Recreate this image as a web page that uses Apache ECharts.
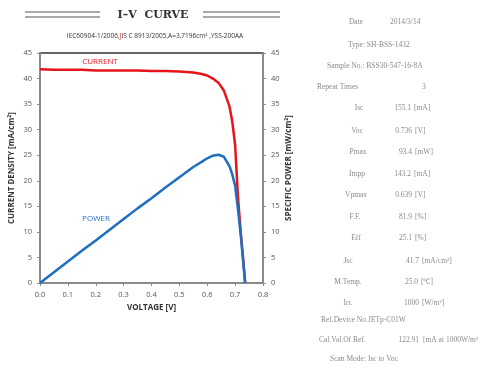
<!DOCTYPE html>
<html>
<head>
<meta charset="utf-8">
<title>I-V CURVE</title>
<script src="https://cdn.jsdelivr.net/npm/echarts@6/dist/echarts.min.js"></script>
<style>
  html, body { margin: 0; padding: 0; background: #fff; }
  #main { width: 494px; height: 374px; }
</style>
</head>
<body>
<div id="main"></div>
<script type="text/javascript">
    // voltage [V] / current density [mA/cm2] / specific power [mW/cm2]
    var voltage = [0.00, 0.05, 0.10, 0.15, 0.20, 0.25, 0.30, 0.35, 0.40, 0.45, 0.50, 0.55, 0.58, 0.60, 0.62, 0.64, 0.66, 0.68, 0.69, 0.70, 0.71, 0.72, 0.73, 0.736];
    var current = [41.8, 41.7, 41.7, 41.7, 41.6, 41.6, 41.6, 41.6, 41.5, 41.5, 41.4, 41.2, 40.9, 40.6, 40.0, 39.2, 37.6, 34.5, 31.5, 27.0, 17.0, 10.0, 4.0, 0];
    var power   = [0, 2.1, 4.2, 6.3, 8.3, 10.4, 12.5, 14.6, 16.6, 18.7, 20.7, 22.7, 23.7, 24.4, 24.9, 25.1, 24.7, 22.8, 21.2, 19.0, 14.5, 9.5, 3.5, 0];

    var xTicks = [0.0, 0.8, 0.1];   // min, max, step
    var yTicks = [0, 45, 5];

    // measurement summary on the right
    var infoLabels = ['Date', 'Isc', 'Voc', 'Pmax', 'Impp', 'Vpmax', 'F.F.', 'Eff', 'Jsc', 'M.Temp.', 'Irr.'];
    var infoValues = ['2014/3/14', '155.1', '0.736', '93.4', '143.2', '0.639', '81.9', '25.1', '41.7', '25.0', '1000'];
    var infoUnits  = ['', '[mA]', '[V]', '[mW]', '[mA]', '[V]', '[%]', '[%]', '[mA/cm\u00b2]', '[\u2103]', '[W/m\u00b2]'];

    var mychart = echarts.init(document.getElementById('main'));

    function pairs(xs, ys) {
        var out = [];
        for (var i = 0; i < xs.length; i++) {
            out.push([xs[i], ys[i]]);
        }
        return out;
    }

    var grey = '#8a8a8a';
    var infoFont = '7.5px "Liberation Serif"';
    var infoY = [22, 108, 131, 152, 174, 195, 217, 238, 261, 282, 303];
    var labelX = [356, 359, 357, 358, 357, 356, 355, 356, 348, 348, 348];
    var valueX = [390, 411, 412, 412, 411, 412, 412, 412, 419, 418, 419];

    var graphics = [
        // title with double rules
        { type: 'line', shape: { x1: 25, y1: 12, x2: 100, y2: 12 }, style: { stroke: '#555', lineWidth: 1.2 } },
        { type: 'line', shape: { x1: 25, y1: 17, x2: 100, y2: 17 }, style: { stroke: '#555', lineWidth: 1.2 } },
        { type: 'line', shape: { x1: 203, y1: 12, x2: 280, y2: 12 }, style: { stroke: '#555', lineWidth: 1.2 } },
        { type: 'line', shape: { x1: 203, y1: 17, x2: 280, y2: 17 }, style: { stroke: '#555', lineWidth: 1.2 } },
        { type: 'text', x: 153, y: 15, style: { text: 'I\u2013V  CURVE', font: 'bold 11px "DejaVu Serif"', fill: '#333', align: 'center', verticalAlign: 'middle' } },
        { type: 'text', x: 155, y: 36, style: {
            text: '{a|IEC60904-1/2006,}{r|J}{a|IS C 8913/2005,A=3.7196cm\u00b2 ,YSS-200AA}',
            align: 'center', verticalAlign: 'middle',
            rich: {
                a: { font: '6.5px "Open Sans"', fill: '#333' },
                r: { font: '6.5px "Open Sans"', fill: '#e8141b' }
            }
        } },
        { type: 'text', x: 100, y: 62, style: { text: 'CURRENT', font: '8px "Open Sans"', fill: '#e8141b', align: 'center', verticalAlign: 'middle' } },
        { type: 'text', x: 96, y: 219, style: { text: 'POWER', font: '8px "Open Sans"', fill: '#1f6fc0', align: 'center', verticalAlign: 'middle' } },

        // single-string rows of the info block
        { type: 'text', x: 348, y: 45, style: { text: 'Type: SH-BSS-1432', font: infoFont, fill: grey, verticalAlign: 'middle' } },
        { type: 'text', x: 327, y: 66, style: { text: 'Sample No.: BSS30-547-16-8A', font: infoFont, fill: grey, verticalAlign: 'middle' } },
        { type: 'text', x: 317, y: 87, style: { text: 'Repeat Times', font: infoFont, fill: grey, verticalAlign: 'middle' } },
        { type: 'text', x: 422, y: 87, style: { text: '3', font: infoFont, fill: grey, verticalAlign: 'middle' } },
        { type: 'text', x: 321, y: 320, style: { text: 'Ref.Device No.', font: infoFont, fill: grey, verticalAlign: 'middle' } },
        { type: 'text', x: 368, y: 320, style: { text: 'JETp-C01W', font: infoFont, fill: grey, verticalAlign: 'middle' } },
        { type: 'text', x: 319, y: 340, style: { text: 'Cal.Val.Of Ref.', font: infoFont, fill: grey, verticalAlign: 'middle' } },
        { type: 'text', x: 419, y: 340, style: { text: '122.91', font: infoFont, fill: grey, align: 'right', verticalAlign: 'middle' } },
        { type: 'text', x: 423, y: 340, style: { text: '[mA at 1000W/m\u00b2', font: infoFont, fill: grey, verticalAlign: 'middle' } },
        { type: 'text', x: 330, y: 359, style: { text: 'Scan Mode: Isc to Voc', font: infoFont, fill: grey, verticalAlign: 'middle' } }
    ];

    for (var i = 0; i < infoLabels.length; i++) {
        graphics.push({ type: 'text', x: labelX[i], y: infoY[i], style: { text: infoLabels[i], font: infoFont, fill: grey, align: 'center', verticalAlign: 'middle' } });
        if (i == 0) {
            graphics.push({ type: 'text', x: valueX[i], y: infoY[i], style: { text: infoValues[i], font: infoFont, fill: grey, verticalAlign: 'middle' } });
        } else {
            graphics.push({ type: 'text', x: valueX[i], y: infoY[i], style: { text: infoValues[i], font: infoFont, fill: grey, align: 'right', verticalAlign: 'middle' } });
            graphics.push({ type: 'text', x: valueX[i] + 3, y: infoY[i], style: { text: infoUnits[i], font: infoFont, fill: grey, verticalAlign: 'middle' } });
        }
    }

    var axisLabel = { fontFamily: 'Open Sans', fontSize: 7.5, color: '#555' };
    var yAxisBase = {
        type: 'value',
        min: yTicks[0], max: yTicks[1], interval: yTicks[2],
        nameLocation: 'middle',
        nameTextStyle: { fontFamily: 'Open Sans', fontSize: 8, fontWeight: 'bold', color: '#333' },
        axisLine: { show: true, lineStyle: { color: grey, width: 2 } },
        axisTick: { show: true, length: 3, lineStyle: { color: grey } },
        axisLabel: axisLabel,
        splitLine: { show: false }
    };

    var options = {
        animation: false,
        backgroundColor: '#fff',
        grid: { left: 40, right: 231, top: 53, bottom: 91, show: true, borderColor: '#333', borderWidth: 1.5 },
        xAxis: {
            type: 'value',
            min: xTicks[0], max: xTicks[1], interval: xTicks[2],
            name: 'VOLTAGE [V]',
            nameLocation: 'middle', nameGap: 18,
            nameTextStyle: { fontFamily: 'Open Sans', fontSize: 8, fontWeight: 'bold', color: '#333' },
            axisLine: { lineStyle: { color: grey, width: 2 } },
            axisTick: { show: true, length: 3, lineStyle: { color: grey } },
            axisLabel: { fontFamily: 'Open Sans', fontSize: 7.5, color: '#555', margin: 8, formatter: function (v) { return v.toFixed(1); } },
            splitLine: { show: false }
        },
        yAxis: [
            echarts.util.merge({ position: 'left', name: 'CURRENT DENSITY [mA/cm\u00b2]', nameGap: 24 }, yAxisBase, true),
            echarts.util.merge({ position: 'right', name: 'SPECIFIC POWER [mW/cm\u00b2]', nameGap: 22, nameRotate: 90 }, yAxisBase, true)
        ],
        series: [
            {
                name: 'CURRENT', type: 'line', yAxisIndex: 0,
                data: pairs(voltage, current),
                showSymbol: false,
                lineStyle: { color: '#e8141b', width: 2.5 },
                z: 2
            },
            {
                name: 'POWER', type: 'line', yAxisIndex: 1,
                data: pairs(voltage, power),
                showSymbol: false,
                lineStyle: { color: '#1f6fc0', width: 2.5 },
                z: 3
            }
        ],
        graphic: graphics
    };

    mychart.setOption(options);
</script>
</body>
</html>
